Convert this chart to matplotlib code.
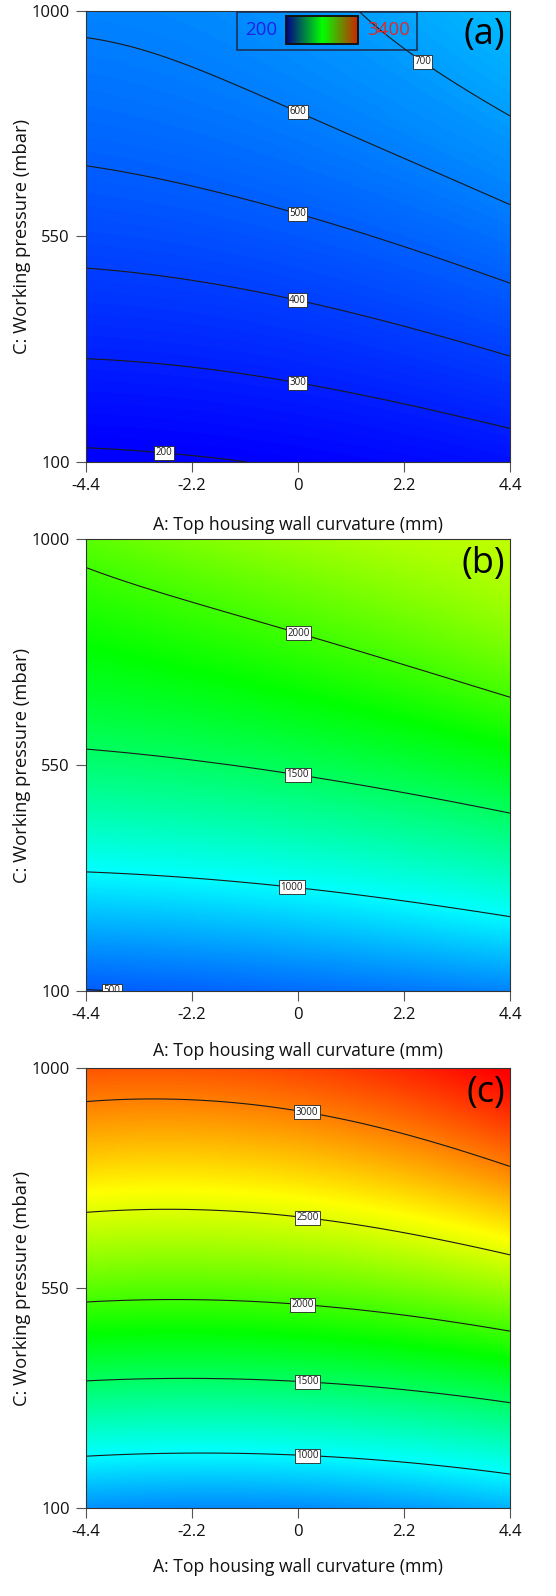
import numpy as np
import matplotlib
matplotlib.use("Agg")
import matplotlib.pyplot as plt
from matplotlib.colors import LinearSegmentedColormap
from matplotlib.patches import Rectangle

plt.rcParams['font.family'] = ['Open Sans', 'DejaVu Sans']

# ---------------- data ----------------
A_design = [-4.4, 0.0, 4.4]                 # A: top housing wall curvature (mm)
C_design = [100, 325, 550, 775, 1000]       # C: working pressure (mbar)

# response values at (C row, A column)
resp_a = [[185, 208, 256],
          [311, 341, 410],
          [433, 475, 561],
          [536, 590, 692],
          [618, 670, 805]]
resp_b = [[495, 545, 620],
          [972, 1045, 1190],
          [1443, 1539, 1718],
          [1787, 1940, 2160],
          [2080, 2290, 2400]]
resp_c = [[665, 651, 770],
          [1385, 1386, 1531],
          [2082, 2097, 2287],
          [2667, 2694, 2939],
          [3130, 3177, 3420]]

levels_a = [200, 300, 400, 500, 600, 700]
levels_b = [500, 1000, 1500, 2000]
levels_c = [1000, 1500, 2000, 2500, 3000]

panel_tags = ['(a)', '(b)', '(c)']
x_ticks = [-4.4, -2.2, 0, 2.2, 4.4]
x_ticklabels = ['-4.4', '-2.2', '0', '2.2', '4.4']
y_ticks = [100, 550, 1000]
y_ticklabels = ['100', '550', '1000']
scale_low, scale_high = 200, 3400
x_label = 'A: Top housing wall curvature (mm)'
y_label = 'C: Working pressure (mbar)'

# contour-label anchor spots (layout only)
label_spots_a = [(-2.77, 129), (0.0, 263), (0.0, 427), (0.0, 598), (0.0, 798), (2.64, 906)]
label_spots_b = [(-3.85, 114), (-0.12, 313), (0.0, 532), (0.0, 811)]
label_spots_c = [(0.2, 214), (0.2, 371), (0.1, 527), (0.2, 697), (0.2, 916)]

# ---------------- surface through the read values ----------------
def surface(grid, AA, CC):
    G = np.asarray(grid, float)
    a_pts = np.asarray(A_design) / 4.4
    c_pts = (np.asarray(C_design) - 550.0) / 450.0
    rows, vals = [], []
    for j, cv in enumerate(c_pts):
        for i, av in enumerate(a_pts):
            rows.append([av**p * cv**q for p in range(3) for q in range(5)])
            vals.append(G[j, i])
    coef = np.linalg.solve(np.array(rows), np.array(vals))
    a = AA / 4.4
    c = (CC - 550.0) / 450.0
    Z = np.zeros_like(AA)
    k = 0
    for p in range(3):
        for q in range(5):
            Z += coef[k] * a**p * c**q
            k += 1
    return Z

cmap = LinearSegmentedColormap.from_list(
    'dx', [(0, 0, 1), (0, 1, 1), (0, 1, 0), (1, 1, 0), (1, 0, 0)])

fig = plt.figure(figsize=(5.56, 15.96), dpi=100)
W, H = 556.0, 1596.0
boxes = [(86, 10.7, 510, 461.7), (86, 539.3, 510, 991.0), (86, 1068.3, 510, 1508.3)]
xlab_off = [63.5, 60.0, 58.5]

a_fine = np.linspace(-4.4, 4.4, 400)
c_fine = np.linspace(100, 1000, 400)
AA, CC = np.meshgrid(a_fine, c_fine)

datasets = [(resp_a, levels_a, label_spots_a),
            (resp_b, levels_b, label_spots_b),
            (resp_c, levels_c, label_spots_c)]

for k, ((grid, levels, spots), (x0, y0, x1, y1)) in enumerate(zip(datasets, boxes)):
    ax = fig.add_axes([x0 / W, 1 - y1 / H, (x1 - x0) / W, (y1 - y0) / H])
    Z = surface(grid, AA, CC)
    ax.imshow(Z, extent=[-4.4, 4.4, 100, 1000], origin='lower', aspect='auto',
              cmap=cmap, vmin=scale_low, vmax=scale_high, interpolation='bilinear')
    cs = ax.contour(AA, CC, Z, levels=levels, colors='#1a1a1a', linewidths=0.8)
    labs = ax.clabel(cs, fmt='%d', fontsize=7, manual=spots, inline=False)
    for t in labs:
        t.set_rotation(0)
        t.set_bbox(dict(facecolor='white', edgecolor='#222222', linewidth=0.6,
                        boxstyle='square,pad=0.15'))
    ax.set_xlim(-4.4, 4.4)
    ax.set_ylim(100, 1000)
    ax.set_xticks(x_ticks)
    ax.set_xticklabels(x_ticklabels)
    ax.set_yticks(y_ticks)
    ax.set_yticklabels(y_ticklabels)
    ax.tick_params(direction='out', length=7.5, width=0.8, color='#555555',
                   labelsize=12, pad=4, labelcolor='#111111')
    for s in ax.spines.values():
        s.set_color('#333333')
        s.set_linewidth(0.8)
    ax.set_xlabel(x_label, fontsize=12.7, color='#111111')
    ax.set_ylabel(y_label, fontsize=13.2, color='#111111')
    ax.xaxis.set_label_coords(0.5, -xlab_off[k] / (y1 - y0))
    ax.xaxis.label.set_va('center')
    ax.yaxis.set_label_coords(-(x0 - 21.7) / (x1 - x0), 0.5)
    ax.yaxis.label.set_va('center')
    ax.text(0.988, 0.985, panel_tags[k], transform=ax.transAxes, ha='right', va='top',
            fontsize=26, color='black')

    if k == 0:
        ax.add_patch(Rectangle((0.356, 0.913), 0.425, 0.084, transform=ax.transAxes,
                               fill=False, edgecolor='#1f2a4a', linewidth=1.1,
                               clip_on=False, zorder=5))
        cax = ax.inset_axes([0.472, 0.926, 0.17, 0.062])
        bar_cmap = LinearSegmentedColormap.from_list(
            'bar', [(0, 0, 0.55), (0, 1, 0), (0.82, 0.12, 0.0)])
        cax.imshow(np.linspace(scale_low, scale_high, 256)[None, :], aspect='auto',
                   cmap=bar_cmap, extent=[scale_low, scale_high, 0, 1])
        cax.set_xticks([])
        cax.set_yticks([])
        for s in cax.spines.values():
            s.set_color('#111111')
            s.set_linewidth(1.4)
        ax.text(0.413, 0.957, str(scale_low), transform=ax.transAxes, ha='center',
                va='center', fontsize=13.5, color='#2020e0')
        ax.text(0.713, 0.957, str(scale_high), transform=ax.transAxes, ha='center',
                va='center', fontsize=13.5, color='#e02828')

fig.savefig('out.png', dpi=100)
